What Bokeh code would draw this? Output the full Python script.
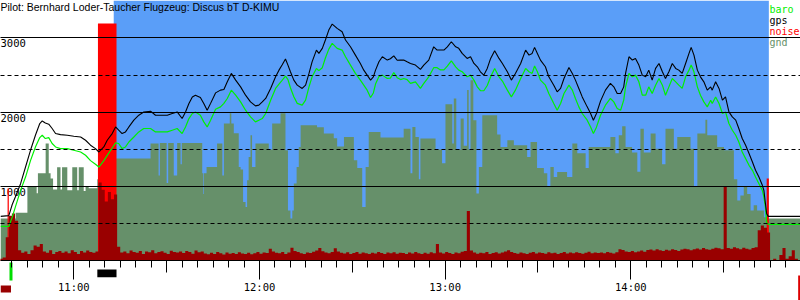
import numpy as np
from bokeh.plotting import figure
from bokeh.models import Range1d, FixedTicker, LinearAxis, Grid, Label
from bokeh.core.properties import value
from bokeh.embed import file_html
from bokeh.resources import INLINE

# ---------------- texts ----------------
title_text = "Pilot: Bernhard  Loder-Taucher  Flugzeug: Discus bT D-KIMU"
legend_labels = ["baro", "gps", "noise", "gnd"]
legend_colors = ["#00ee00", "#000000", "#ff0000", "#66906a"]

# time axis: minutes after midnight
hour_ticks = [660, 720, 780, 840]
hour_labels = ["11:00", "12:00", "13:00", "14:00"]
half_hour_ticks = [690, 750, 810, 870]
five_min_ticks = list(range(640, 895, 5))

alt_ticks = [1000, 2000, 3000]
alt_labels = ["1000", "2000", "3000"]
alt_minor = [500, 1500, 2500]

# ---------------- flight track (time in minutes, altitude in m) ----------------
trk_t = [
    636.3, 639.0, 640.1, 641.1, 642.8, 644.4, 646.0, 647.6, 649.0, 649.8,
    650.8, 651.9, 653.0, 654.1, 655.7, 657.9, 660.0, 662.2, 663.8, 665.4,
    667.0, 668.1, 668.6, 669.7, 670.8, 672.4, 673.5, 674.5, 675.6, 676.7,
    677.8, 679.4, 681.0, 682.6, 684.8, 686.4, 688.0, 690.2, 691.8, 693.4,
    695.0, 696.1, 697.2, 698.3, 699.3, 700.9, 702.0, 703.1, 704.2, 705.8,
    707.4, 708.5, 709.6, 710.9, 712.3, 713.9, 715.5, 717.1, 718.7, 719.8,
    720.9, 722.0, 723.6, 725.2, 726.3, 727.3, 728.4, 729.2, 730.0, 731.1,
    732.2, 733.8, 734.9, 736.0, 737.0, 738.4, 739.2, 740.3, 741.3, 742.4,
    743.5, 745.1, 746.7, 747.8, 749.4, 751.0, 752.6, 753.7, 754.8, 755.9,
    756.8, 757.5, 758.6, 759.7, 761.3, 762.3, 763.4, 764.5, 765.6, 766.6,
    767.7, 768.8, 770.4, 772.0, 773.1, 774.7, 776.3, 777.4, 778.5, 779.6,
    780.7, 782.0, 783.4, 784.4, 785.5, 787.1, 788.2, 789.3, 790.4, 791.4,
    792.5, 793.6, 794.7, 796.0, 797.4, 798.5, 800.1, 801.4, 802.7, 804.4,
    806.0, 807.1, 808.1, 808.9, 809.8, 810.8, 812.4, 813.5, 815.1, 816.2,
    817.3, 818.4, 820.0, 821.1, 822.1, 823.2, 824.3, 825.9, 827.0, 827.9,
    828.9, 830.2, 831.8, 833.4, 834.5, 835.6, 836.7, 837.7, 838.3, 839.4,
    840.5, 841.5, 842.6, 843.7, 844.8, 845.8, 846.9, 848.0, 849.1, 850.2,
    851.2, 852.3, 853.4, 854.5, 855.5, 856.6, 857.7, 858.8, 859.5, 860.4,
    861.5, 862.5, 863.6, 864.7, 865.8, 866.3, 867.4, 868.5, 869.6, 870.6,
    871.7, 872.8, 873.9, 874.9, 876.0, 877.1, 878.2, 879.3, 880.3, 881.4,
    882.5, 883.0, 883.5, 883.9, 884.4, 894.9,
]
gps_alt = [
    600, 610, 760, 860, 1040, 1264, 1489, 1691, 1849, 1884,
    1857, 1840, 1782, 1714, 1700, 1691, 1678, 1668, 1624, 1557,
    1512, 1466, 1489, 1534, 1624, 1714, 1803, 1759, 1714, 1736,
    1803, 1894, 1961, 2005, 2015, 1961, 1961, 1961, 1984, 2005,
    1916, 2005, 2119, 2207, 2230, 2199, 2119, 2028, 2120, 2261,
    2298, 2307, 2410, 2523, 2433, 2342, 2230, 2140, 2086, 2096,
    2140, 2186, 2321, 2477, 2567, 2635, 2716, 2635, 2545, 2433,
    2365, 2321, 2365, 2523, 2679, 2837, 2792, 2860, 2972, 3106,
    3187, 3129, 3083, 2972, 2881, 2769, 2657, 2567, 2500, 2433,
    2477, 2567, 2679, 2747, 2702, 2720, 2760, 2700, 2702, 2702,
    2679, 2657, 2635, 2577, 2635, 2702, 2881, 2837, 2837, 2837,
    2881, 2949, 2881, 2860, 2792, 2725, 2747, 2657, 2612, 2545,
    2500, 2590, 2725, 2828, 2725, 2657, 2545, 2433, 2523, 2657,
    2837, 2769, 2792, 2873, 2792, 2702, 2612, 2477, 2365, 2275,
    2321, 2455, 2603, 2523, 2433, 2321, 2207, 2073, 1984, 1894,
    1984, 2150, 2298, 2388, 2342, 2253, 2253, 2342, 2523, 2747,
    2702, 2725, 2635, 2500, 2477, 2567, 2433, 2590, 2657, 2545,
    2455, 2545, 2657, 2590, 2567, 2523, 2657, 2792, 2873, 2769,
    2567, 2477, 2410, 2298, 2342, 2298, 2410, 2321, 2163, 2207,
    2005, 1938, 1894, 1782, 1647, 1557, 1445, 1332, 1220, 1129,
    1018, 950, 771, 636, 600, 600,
]
baro_alt = [
    465, 465, 590, 725, 950, 1129, 1350, 1534, 1660, 1691,
    1647, 1660, 1580, 1534, 1512, 1512, 1489, 1466, 1422, 1350,
    1300, 1264, 1290, 1350, 1420, 1520, 1588, 1580, 1512, 1534,
    1601, 1668, 1736, 1782, 1782, 1736, 1736, 1736, 1759, 1782,
    1714, 1803, 1916, 1984, 2005, 1961, 1871, 1803, 1894, 2040,
    2073, 2119, 2186, 2298, 2230, 2140, 2028, 1938, 1871, 1894,
    1916, 1984, 2163, 2321, 2380, 2430, 2487, 2440, 2330, 2210,
    2120, 2096, 2163, 2342, 2477, 2590, 2560, 2600, 2730, 2850,
    2927, 2860, 2837, 2747, 2635, 2523, 2433, 2365, 2298, 2199,
    2260, 2380, 2480, 2500, 2455, 2460, 2535, 2466, 2440, 2455,
    2440, 2390, 2410, 2321, 2388, 2477, 2600, 2600, 2570, 2570,
    2620, 2693, 2612, 2567, 2545, 2477, 2500, 2433, 2342, 2290,
    2290, 2360, 2477, 2590, 2477, 2420, 2298, 2207, 2298, 2455,
    2590, 2545, 2523, 2622, 2545, 2433, 2365, 2253, 2119, 2028,
    2119, 2253, 2365, 2298, 2186, 2073, 1984, 1894, 1803, 1714,
    1800, 1960, 2096, 2186, 2140, 2051, 2028, 2163, 2342, 2523,
    2477, 2500, 2410, 2230, 2230, 2342, 2253, 2365, 2455, 2365,
    2230, 2342, 2455, 2410, 2365, 2321, 2477, 2567, 2635, 2545,
    2342, 2230, 2140, 2073, 2163, 2119, 2207, 2119, 1984, 2005,
    1849, 1759, 1691, 1601, 1466, 1377, 1287, 1220, 1129, 1040,
    950, 860, 725, 520, 492, 492,
]

# ---------------- ground elevation (step starts, m) ----------------
gnd_t = [
    636.3, 641.2, 645.0, 648.0, 648.4, 650.9, 651.9, 652.5, 653.3, 654.6,
    655.7, 656.2, 657.9, 659.5, 661.1, 661.6, 663.2, 663.8, 664.8, 667.6,
    673.5, 684.8, 687.4, 687.8, 690.0, 690.5, 692.3, 693.4, 694.5, 694.9,
    701.5, 701.8, 702.0, 702.9, 706.3, 708.0, 708.5, 710.4, 710.9, 711.7,
    713.3, 713.9, 714.7, 715.5, 716.0, 716.5, 717.1, 717.6, 718.7, 723.0,
    724.1, 726.8, 728.4, 729.2, 730.0, 730.6, 731.1, 732.0, 732.7, 733.3,
    738.6, 740.8, 744.0, 745.1, 747.3, 750.5, 751.6, 753.2, 754.3, 755.3,
    759.1, 766.6, 768.8, 769.4, 770.4, 771.5, 772.0, 776.9, 779.0, 780.1,
    782.3, 782.8, 783.6, 785.0, 786.0, 787.1, 787.6, 788.2, 789.1, 790.1,
    790.9, 792.0, 796.8, 797.9, 800.1, 802.2, 806.5, 807.6, 809.7, 811.9,
    813.0, 814.0, 815.1, 816.2, 819.4, 821.1, 822.7, 825.4, 826.4, 833.4,
    835.0, 836.1, 837.2, 838.3, 840.4, 842.1, 843.1, 844.2, 846.4, 848.0,
    850.1, 851.2, 853.9, 855.0, 859.3, 860.4, 861.5, 864.1, 864.7, 867.9,
    870.1, 873.3, 874.4, 875.4, 876.5, 877.6, 878.7, 879.7, 880.8, 883.0,
    884.1,
]
gnd_alt = [
    570, 650, 1000, 910, 1180, 1580, 1180, 1110, 960, 1260,
    960, 1260, 950, 1260, 950, 1260, 940, 1000, 980, 1100,
    1377, 1580, 1150, 1588, 1050, 1588, 1150, 1588, 1300, 1588,
    1180, 900, 1180, 1264, 1580, 1150, 1849, 1988, 1849, 1717,
    1264, 1230, 793, 725, 1085, 1399, 1691, 1264, 1580, 1500,
    1849, 1988, 1489, 680, 573, 680, 1044, 1264, 1534, 1826,
    1800, 1714, 1650, 1540, 1668, 1354, 1250, 725, 1264, 1736,
    1660, 1780, 1180, 1803, 1668, 1100, 1647, 1500, 1314, 2109,
    1580, 2186, 1500, 1916, 1550, 2300, 1500, 2432, 1892, 907,
    1264, 1960, 1700, 1534, 1624, 1557, 1400, 1601, 1250, 1180,
    1000, 1264, 1129, 1197, 1129, 1580, 1450, 1250, 1534, 1668,
    1450, 1690, 1813, 1534, 1460, 1200, 1780, 1460, 1714, 1510,
    1300, 1780, 1510, 1668, 1510, 995, 1714, 1900, 1690, 1534,
    1489, 1100, 815, 880, 995, 900, 680, 750, 680, 590,
    570,
]

# ---------------- engine noise level (one value per minute from 10:36) ----------------
noise_t0 = 636
noise_step = 1
noise_enl = [
    10, 15, 100, 190, 200, 170, 45, 35, 40, 30,
    45, 65, 60, 72, 40, 35, 45, 30, 38, 42,
    35, 40, 33, 45, 38, 30, 42, 36, 44, 38,
    35, 40, 330, 300, 250, 290, 260, 280, 60,
    36, 40, 33, 44, 38, 35, 42, 30, 40, 37, 45, 33, 38, 41, 35, 30, 43, 38, 36, 40, 34, 42, 38, 31, 44, 37, 40,
    32, 28, 35, 30, 38, 33, 27, 36, 31, 34, 29, 37, 32, 30, 35, 28, 33, 38, 31, 36, 34,
    52, 40, 35, 33, 38, 30, 36, 56, 42, 38, 33, 30, 36, 34, 39, 44, 55, 41, 36, 33, 38, 54,
    40, 35, 32, 37, 30, 34, 38, 31, 36, 33, 29, 35, 32, 38, 34, 30, 36, 33, 37, 31, 35,
    34, 30, 36, 32, 38, 33, 29, 35, 31, 37, 33, 72, 36, 32, 38, 34, 30, 36, 33, 39, 42, 210,
    44, 36, 31, 35, 33, 38, 30, 34, 37, 32, 36, 40, 45, 38, 34, 31, 36, 33, 30, 35,
    38, 32, 36, 34, 31, 37, 33, 35, 30, 34, 38, 32, 36, 33, 37, 34, 31, 35, 39, 33, 36, 34,
    36, 33, 38, 35, 32, 37, 50, 46, 40, 38,
    42, 37, 40, 44, 39, 46, 48, 44, 50, 45, 42,
    47, 44, 50, 46, 42, 48, 52, 49, 45, 50, 53, 48, 55, 50, 47, 52, 56, 54, 50,
    312, 55, 52, 58, 54, 50, 56, 52, 48, 55, 58,
    130, 150, 140, 120,
    0, 10, 0, 25, 55, 10, 20, 45, 10, 0,
]
# peak noise (engine run, take-off and landing)
peak_start = [638.6, 667.8, 883.9]
peak_end = [639.0, 673.8, 884.6]
peak_enl = [305, 1000, 347]

# events
takeoff_t = 639.7
engine_on = 667.6
engine_off = 673.8
scored_start = 672.9
scored_end = 884.6
log_end_t = 894.4

# ---------------- styling ----------------
BLUE = "#5a9ef8"
GND = "#66906a"
DARKRED = "#990000"
MONO = "DejaVu Sans Mono"
X0, X1 = 636.31, 894.83
Y0, Y1 = -531.3, 3503.7
N0, N1 = -166.3, 1096.8

p = figure(width=800, height=300, x_range=Range1d(X0, X1), y_range=Range1d(Y0, Y1),
           output_backend="svg", toolbar_location=None, min_border=0,
           y_axis_location=None, outline_line_color=None,
           background_fill_color="white", border_fill_color="white")
p.extra_y_ranges = {"noise": Range1d(N0, N1)}
p.grid.visible = False

# sky (scored, engine off) background
p.quad(left=[scored_start], right=[scored_end], bottom=[0], top=[Y1],
       fill_color=BLUE, line_color=None)

# altitude labels
p.text(x=[X0] * len(alt_ticks), y=alt_ticks, text=alt_labels,
       text_font=value(MONO), text_font_size="10.5px",
       text_baseline="top", text_align="left", text_color="black", y_offset=1.5)

# ground
g_t = np.array(gnd_t + [X1])
gx = np.repeat(g_t, 2)[1:-1]
gy = np.repeat(np.array(gnd_alt, dtype=float), 2)
p.varea(x=gx, y1=0, y2=gy, fill_color=GND)

# noise peaks
p.quad(left=peak_start, right=peak_end, bottom=0, top=peak_enl,
       fill_color="#ff0000", line_color=None, y_range_name="noise")

# noise
n = len(noise_enl)
n_t = noise_t0 + noise_step * np.arange(n + 1)
nx = np.repeat(n_t, 2)[1:-1]
ny = np.repeat(np.array(noise_enl, dtype=float), 2)
p.varea(x=nx, y1=0, y2=ny, fill_color=DARKRED, y_range_name="noise")

# altitude lines
p.line(trk_t, baro_alt, line_color="#00f000", line_width=1.2)
p.line(trk_t, gps_alt, line_color="black", line_width=1.1)

# event markers below the time axis
p.quad(left=[X0], right=[takeoff_t], top=[-330], bottom=[-424],
       fill_color=DARKRED, line_color=None)
p.segment(x0=[takeoff_t], x1=[takeoff_t], y0=[-20], y1=[-262],
          line_color="#00dd00", line_width=3)
p.quad(left=[engine_on], right=[engine_off], top=[-114], bottom=[-218],
       fill_color="black", line_color=None)
p.segment(x0=[log_end_t], x1=[log_end_t], y0=[-195], y1=[-531],
          line_color="#dd0000", line_width=2)

# horizontal altitude lines
grid = Grid(dimension=1, ticker=FixedTicker(ticks=alt_ticks, minor_ticks=alt_minor),
            grid_line_color="black", grid_line_width=1,
            minor_grid_line_color="black", minor_grid_line_dash="4 3",
            level="overlay")
p.add_layout(grid)

# time axis
ax = p.xaxis[0]
ax.fixed_location = 0
ax.ticker = FixedTicker(ticks=hour_ticks, minor_ticks=five_min_ticks)
ax.major_label_overrides = {t: l for t, l in zip(hour_ticks, hour_labels)}
ax.axis_line_color = "black"
ax.major_tick_in = 0
ax.major_tick_out = 19
ax.minor_tick_in = 0
ax.minor_tick_out = 7
ax.major_tick_line_color = "black"
ax.minor_tick_line_color = "black"
ax.major_label_text_font = MONO
ax.major_label_text_font_size = "10.5px"
ax.major_label_text_color = "black"
ax.major_label_standoff = 1

ax2 = LinearAxis(ticker=FixedTicker(ticks=half_hour_ticks, minor_ticks=[]),
                 fixed_location=0, axis_line_color=None,
                 major_tick_in=0, major_tick_out=12, major_tick_line_color="black",
                 minor_tick_line_color=None, major_label_text_color=None)
p.add_layout(ax2, "below")

# title and legend
p.add_layout(Label(x=0, y=300, x_units="screen", y_units="screen", text=title_text,
                   text_font="Liberation Sans", text_font_size="10.5px",
                   text_baseline="top", text_color="black"))
for i, (lab, col) in enumerate(zip(legend_labels, legend_colors)):
    p.add_layout(Label(x=769, y=300 - 8.5 - 11 * i, x_units="screen", y_units="screen",
                       text=lab, text_color=col, text_font=MONO,
                       text_font_size="10px", text_baseline="alphabetic"))

open("out.html", "w").write(file_html(p, INLINE))
